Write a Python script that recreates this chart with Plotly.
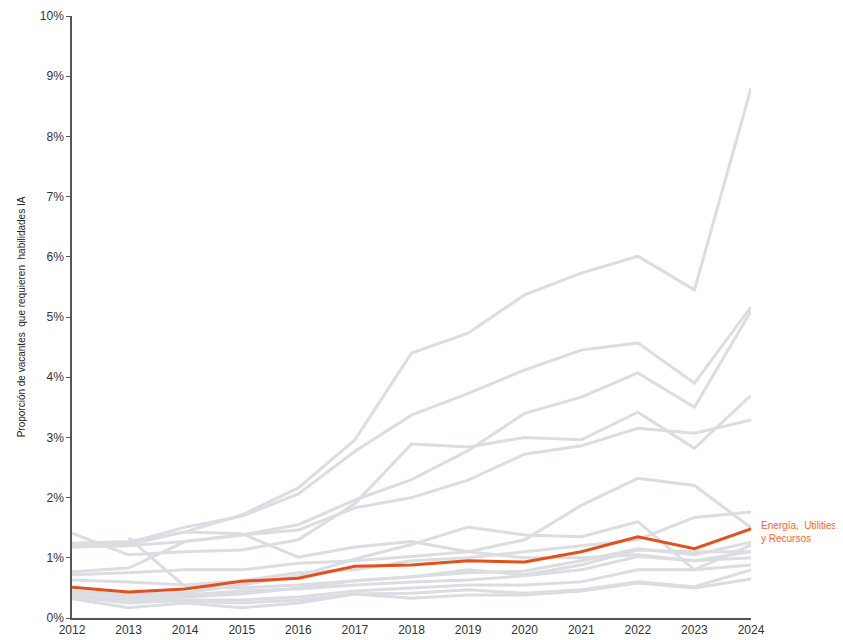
import plotly.graph_objects as go

# Años y series (% de vacantes que requieren habilidades IA)
years = list(range(2012, 2025))

# sectores en gris (aproximados)
sector_a = [1.18, 1.22, 1.43, 1.71, 2.16, 2.96, 4.40, 4.73, 5.37, 5.73, 6.01, 5.45, 8.80]
sector_b = [1.22, 1.25, 1.51, 1.69, 2.06, 2.77, 3.37, 3.73, 4.12, 4.45, 4.57, 3.90, 5.17]
sector_c = [1.18, 1.20, 1.27, 1.38, 1.55, 1.96, 2.30, 2.78, 3.40, 3.67, 4.07, 3.50, 5.10]
sector_d = [1.41, 1.05, 1.10, 1.13, 1.30, 1.90, 2.89, 2.84, 3.00, 2.96, 3.42, 2.82, 3.70]
sector_e = [0.77, 0.83, 1.27, 1.38, 1.46, 1.83, 2.00, 2.29, 2.72, 2.86, 3.15, 3.07, 3.29]
sector_f = [1.24, 1.27, 1.43, 1.40, 1.01, 1.18, 1.27, 1.10, 1.00, 1.00, 1.05, 0.95, 1.10]
sector_g = [0.72, 0.75, 0.80, 0.80, 0.91, 0.95, 1.02, 1.10, 1.30, 1.87, 2.32, 2.20, 1.50]
sector_h = [0.63, 0.60, 0.55, 0.62, 0.75, 0.80, 0.95, 1.00, 1.10, 1.20, 1.30, 1.67, 1.76]
sector_i = [None, 1.33, 0.52, 0.50, 0.55, 0.62, 0.68, 0.75, 0.78, 0.95, 1.15, 1.05, 1.26]
sector_j = [0.45, 0.40, 0.42, 0.55, 0.70, 0.98, 1.22, 1.51, 1.38, 1.35, 1.60, 0.80, 1.21]
sector_k = [0.38, 0.30, 0.35, 0.40, 0.50, 0.62, 0.68, 0.80, 0.72, 0.88, 1.13, 1.10, 1.10]
sector_l = [0.45, 0.35, 0.38, 0.45, 0.48, 0.55, 0.60, 0.63, 0.70, 0.80, 1.02, 0.95, 1.00]
sector_m = [0.35, 0.25, 0.30, 0.30, 0.35, 0.45, 0.50, 0.55, 0.55, 0.60, 0.80, 0.80, 0.88]
sector_n = [0.32, 0.17, 0.25, 0.17, 0.25, 0.40, 0.41, 0.47, 0.41, 0.47, 0.60, 0.52, 0.80]
sector_o = [0.40, 0.30, 0.28, 0.25, 0.30, 0.40, 0.33, 0.38, 0.38, 0.45, 0.58, 0.50, 0.65]

# sector destacado
energia = [0.51, 0.43, 0.48, 0.61, 0.66, 0.86, 0.88, 0.95, 0.93, 1.10, 1.35, 1.15, 1.48]
energia_label = "Energía,  Utilities<br>y Recursos"

y_ticks = list(range(0, 11))
y_labels = [f"{v}%" for v in y_ticks]

grises = [sector_a, sector_b, sector_c, sector_d, sector_e, sector_f, sector_g, sector_h,
          sector_i, sector_j, sector_k, sector_l, sector_m, sector_n, sector_o]

fig = go.Figure()

for serie in grises:
    fig.add_trace(go.Scatter(
        x=years, y=serie, mode="lines",
        line=dict(color="#dcdde2", width=3),
        showlegend=False, hoverinfo="skip",
    ))

fig.add_trace(go.Scatter(
    x=years, y=energia, mode="lines",
    line=dict(color="#e2501c", width=3),
    showlegend=False,
))

fig.add_annotation(
    x=years[-1], y=energia[-1], xref="x", yref="y",
    text=energia_label, showarrow=False,
    xanchor="left", yanchor="middle", xshift=8, yshift=-3, align="left",
    font=dict(size=10, color="#f26a2e", family="Liberation Sans, Arial"),
)

# la página tiene 8px de margen en el body
fig.update_layout(
    width=835, height=632,
    margin=dict(l=64, r=92, t=8, b=22),
    paper_bgcolor="white", plot_bgcolor="white",
    font=dict(family="Liberation Sans, Arial", size=12, color="#333333"),
    xaxis=dict(
        range=[2012, 2024], tickvals=years, ticktext=[str(y) for y in years],
        showgrid=False, zeroline=False, showline=True, automargin=False,
        linecolor="#555555", linewidth=1.5, ticks="", ticklen=0,
        tickfont=dict(size=12, color="#333333"),
    ),
    yaxis=dict(
        range=[0, 10], tickvals=y_ticks, ticktext=y_labels,
        showgrid=False, zeroline=False, showline=True, automargin=False,
        linecolor="#555555", linewidth=1.5, ticks="outside", ticklen=4,
        tickcolor="#555555", tickfont=dict(size=12, color="#333333"),
        title=dict(text="Proporción de vacantes  que requieren  habilidades IA",
                   font=dict(size=10, color="#222222"), standoff=12),
    ),
)

fig.write_html("out.html")
